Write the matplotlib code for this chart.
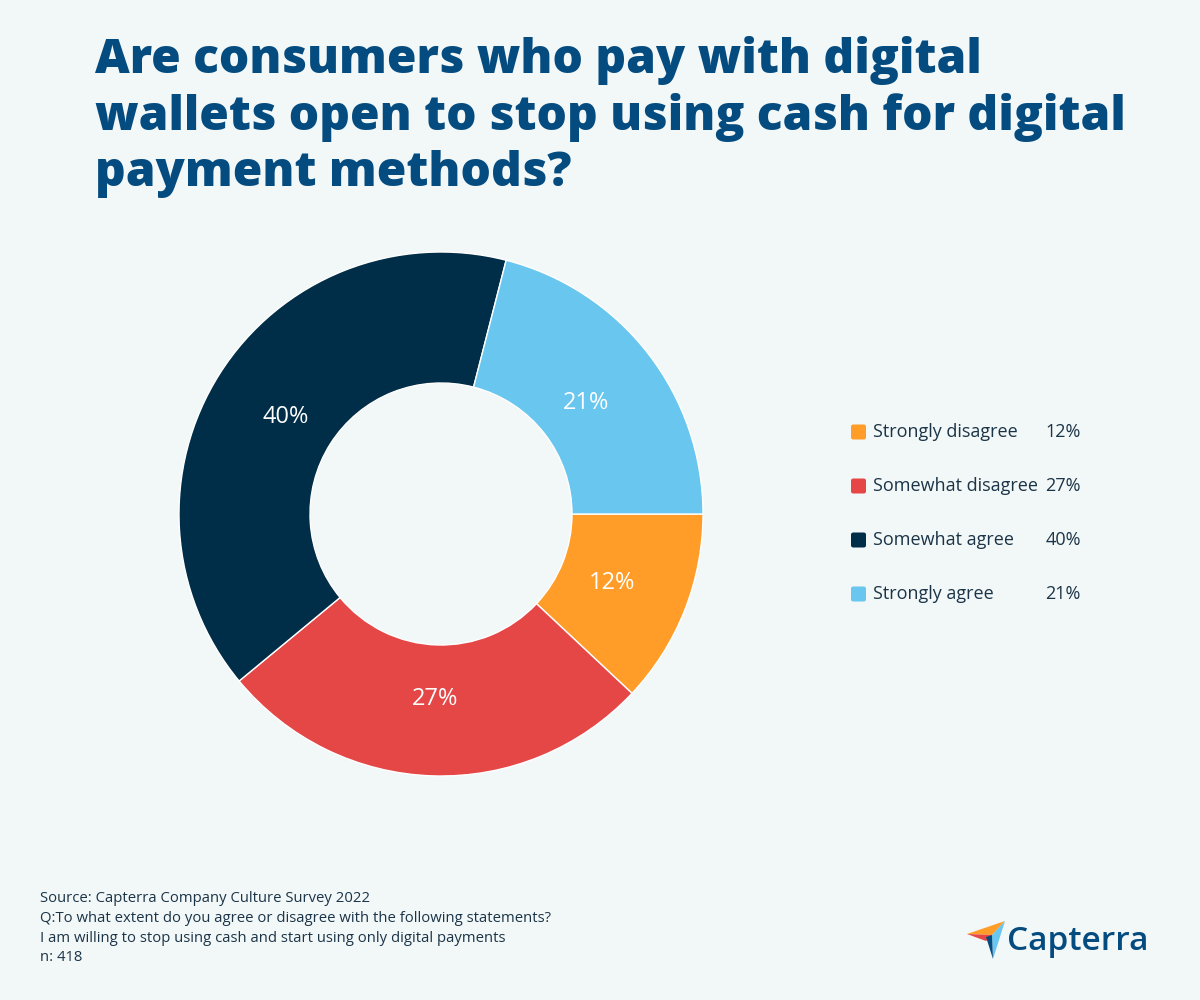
import matplotlib
matplotlib.use("Agg")
import matplotlib.pyplot as plt
from matplotlib.patches import FancyBboxPatch, Polygon

# ---- data ----
categories = ["Strongly disagree", "Somewhat disagree", "Somewhat agree", "Strongly agree"]
values = [12, 27, 40, 21]
colors = ["#FF9D28", "#E54747", "#002D47", "#68C6EF"]
title_lines = ["Are consumers who pay with digital",
               "wallets open to stop using cash for digital",
               "payment methods?"]
footer_lines = ["Source: Capterra Company Culture Survey 2022",
                "Q:To what extent do you agree or disagree with the following statements?",
                "I am willing to stop using cash and start using only digital payments",
                "n: 418"]

BG = "#F2F7F7"
TITLE_C = "#044B7F"
TEXT_C = "#1B3447"
W, H = 1200, 1000

plt.rcParams['font.family'] = ['Open Sans', 'DejaVu Sans']
fig = plt.figure(figsize=(12, 10), dpi=100, facecolor=BG)

def fx(px):
    return px / W

def fy(py):
    return 1 - py / H

# ---- title ----
for i, line in enumerate(title_lines):
    fig.text(fx(95), fy(73 + i * 56.5), line, fontsize=34.5, fontweight='heavy',
             color=TITLE_C, va='baseline', ha='left')

# ---- donut ----
cx, cy, r = 441, 514, 262
ax = fig.add_axes([fx(cx - r), fy(cy + r), 2 * r / W, 2 * r / H])
ax.set_facecolor(BG)
wedges, texts, autotexts = ax.pie(
    values, colors=colors, startangle=0, counterclock=False,
    autopct=lambda p: f"{p:.0f}%", pctdistance=0.70,
    wedgeprops=dict(width=0.5, edgecolor='white', linewidth=1),
    textprops=dict(color='white', fontsize=17))
for t in autotexts:
    x, y = t.get_position()
    t.set_position((x, y - 0.005))
ax.set_xlim(-1, 1)
ax.set_ylim(-1, 1)
ax.set_aspect('equal')
ax.axis('off')

# ---- legend ----
for i, (cat, col, val) in enumerate(zip(categories, colors, values)):
    y = 432 + i * 54
    sq = FancyBboxPatch((fx(851), fy(y + 7.5)), fx(15), 15 / H,
                        boxstyle="round,pad=0,rounding_size=0.002",
                        transform=fig.transFigure, facecolor=col, edgecolor='none')
    fig.patches.append(sq)
    fig.text(fx(873), fy(y), cat, fontsize=13, color=TEXT_C, va='center', ha='left')
    fig.text(fx(1081), fy(y), f"{val}%", fontsize=13, color=TEXT_C, va='center', ha='right')

# ---- footer ----
for i, line in enumerate(footer_lines):
    fig.text(fx(40), fy(899 + i * 19.5), line, fontsize=10.7, color=TEXT_C,
             va='center', ha='left')

# ---- logo ----
def poly(pts, c):
    p = Polygon([(fx(x), fy(y)) for x, y in pts], closed=True,
                transform=fig.transFigure, facecolor=c, edgecolor='none')
    fig.patches.append(p)

poly([(967, 934), (1005, 921), (992, 935)], "#FF9D28")
poly([(967, 934), (992, 935), (986, 941)], "#E54747")
poly([(1005, 921), (992, 935), (993, 959)], "#68C6EF")
poly([(986, 937), (992, 935), (993, 959)], "#044B7F")
fig.text(fx(1007), fy(941), "Capterra", fontsize=24, fontweight='semibold',
         color=TITLE_C, va='center', ha='left')

fig.savefig("out.png", dpi=100, facecolor=BG)
